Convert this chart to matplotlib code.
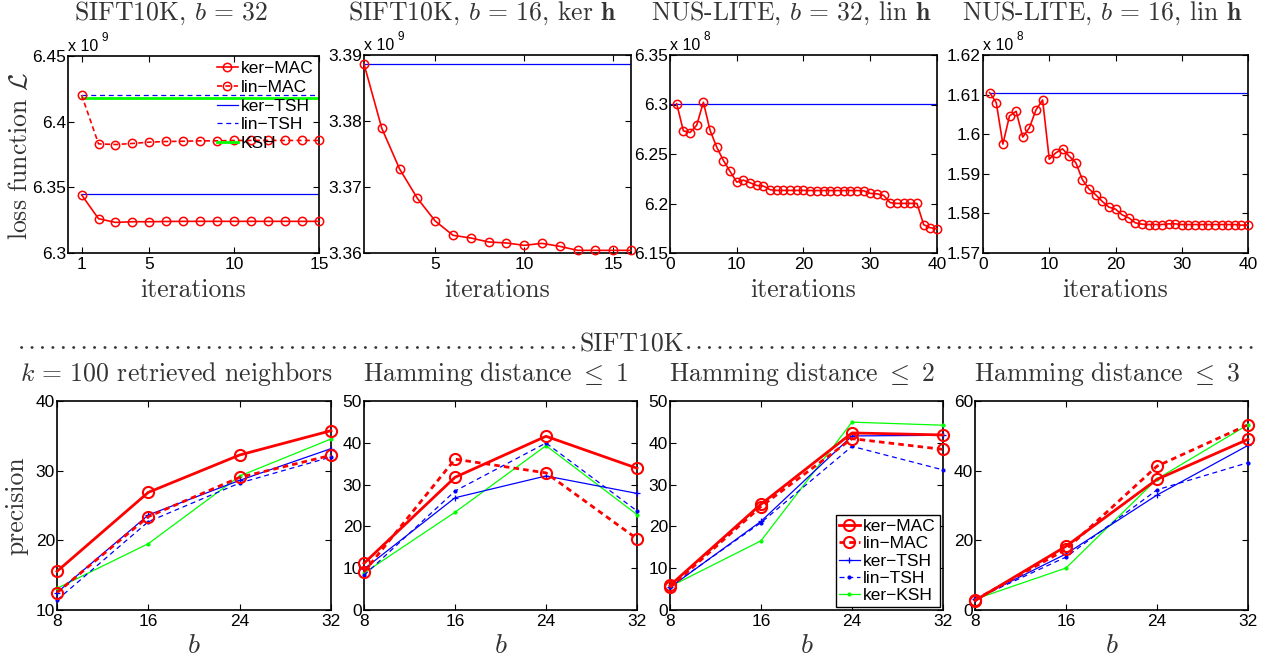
import matplotlib
matplotlib.use('Agg')
import matplotlib.pyplot as plt
from matplotlib.lines import Line2D
from matplotlib.ticker import FuncFormatter

plt.rcParams['mathtext.fontset'] = 'cm'
plt.rcParams['font.family'] = ['Liberation Sans', 'DejaVu Sans']
plt.rcParams['axes.unicode_minus'] = True

# ---------------- data ----------------
# top row: loss function vs iterations (values in units of the offset exponent)
p1_iter = list(range(1, 16))
p1_ker_mac = [6.3443, 6.3261, 6.3233, 6.3238, 6.3238, 6.3240, 6.3241, 6.3241,
              6.3241, 6.3241, 6.3241, 6.3241, 6.3241, 6.3241, 6.3241]
p1_lin_mac = [6.4204, 6.3831, 6.3826, 6.3834, 6.3844, 6.3849, 6.3851, 6.3854,
              6.3854, 6.3857, 6.3857, 6.3857, 6.3857, 6.3857, 6.3857]
p1_ker_tsh = 6.3447
p1_lin_tsh = 6.4204
p1_ksh = 6.4180

p2_iter = list(range(1, 17))
p2_ker_mac = [3.38864, 3.37889, 3.37273, 3.36828, 3.36485, 3.36268, 3.36227, 3.36167,
              3.36152, 3.36116, 3.36146, 3.36101, 3.36040, 3.36040, 3.36040, 3.36040]
p2_tsh = 3.38864

p3_iter = list(range(1, 41))
p3_lin_mac = [6.3009, 6.2734, 6.2717, 6.2791, 6.3023, 6.2740, 6.2569, 6.2434, 6.2324, 6.2216,
              6.2236, 6.2209, 6.2182, 6.2176, 6.2139, 6.2132, 6.2132, 6.2132, 6.2132, 6.2132,
              6.2131, 6.2131, 6.2131, 6.2131, 6.2131, 6.2131, 6.2131, 6.2131, 6.2129, 6.2102,
              6.2098, 6.2082, 6.2008, 6.2001, 6.2001, 6.2001, 6.2001, 6.1786, 6.1755, 6.1745]
p3_tsh = 6.3009

p4_iter = list(range(1, 41))
p4_lin_mac = [1.61052, 1.60799, 1.59750, 1.60460, 1.60579, 1.59927, 1.60164, 1.60613, 1.60866, 1.59369,
              1.59530, 1.59631, 1.59445, 1.59284, 1.58853, 1.58616, 1.58472, 1.58303, 1.58159, 1.58108,
              1.57964, 1.57888, 1.57761, 1.57728, 1.57719, 1.57719, 1.57719, 1.57736, 1.57736, 1.57719,
              1.57719, 1.57719, 1.57719, 1.57719, 1.57719, 1.57719, 1.57719, 1.57719, 1.57702, 1.57710]
p4_tsh = 1.61052

# bottom row: precision vs number of bits b
bits = [8, 16, 24, 32]
k100 = {
    'ker-MAC': [15.55, 26.89, 32.25, 35.74],
    'lin-MAC': [12.49, 23.40, 29.04, 32.20],
    'ker-TSH': [12.50, 23.64, 28.61, 33.16],
    'lin-TSH': [11.44, 22.68, 28.23, 31.96],
    'ker-KSH': [13.11, 19.52, 29.23, 34.55],
}
ham1 = {
    'ker-MAC': [11.17, 31.75, 41.56, 33.92],
    'lin-MAC': [9.08, 36.09, 32.80, 17.04],
    'ker-TSH': [9.80, 26.85, 32.07, 27.89],
    'lin-TSH': [8.28, 28.46, 39.95, 23.70],
    'ker-KSH': [8.84, 23.39, 39.31, 22.83],
}
ham2 = {
    'ker-MAC': [5.87, 25.32, 42.36, 41.88],
    'lin-MAC': [5.39, 24.76, 41.00, 38.42],
    'ker-TSH': [5.40, 21.22, 41.64, 41.80],
    'lin-TSH': [5.60, 20.90, 39.15, 33.52],
    'ker-KSH': [5.60, 16.56, 44.94, 44.21],
}
ham3 = {
    'ker-MAC': [2.70, 18.30, 37.50, 49.00],
    'lin-MAC': [2.90, 17.40, 41.30, 53.20],
    'ker-TSH': [3.10, 16.10, 33.00, 47.25],
    'lin-TSH': [3.10, 15.20, 34.50, 42.30],
    'ker-KSH': [3.10, 12.05, 37.60, 53.20],
}

# ---------------- layout helpers ----------------
W, H = 1270, 659
fig = plt.figure(figsize=(W / 100, H / 100), dpi=100)
TXT = '#333333'
SERIF = 'cmr10'
TFS = 18.5


def rect(x0, x1, y0, y1):
    return [x0 / W, 1 - y1 / H, (x1 - x0) / W, (y1 - y0) / H]


def fx(x):
    return x / W


def fy(y):
    return 1 - y / H


def style(ax):
    ax.tick_params(direction='in', top=True, right=True, length=4, width=0.8,
                   labelsize=12.5, pad=3)
    ax.tick_params(axis='y', pad=1.5)
    for s in ax.spines.values():
        s.set_linewidth(1.2)
        s.set_color('black')
    ax.yaxis.set_major_formatter(FuncFormatter(lambda v, p: format(round(v, 5), 'g')))


def offset_label(ax, exp):
    ax.annotate('x 10', xy=(0, 1), xycoords='axes fraction', xytext=(0, 1.5),
                textcoords='offset points', ha='left', va='bottom', fontsize=11.5)
    ax.annotate(str(exp), xy=(0, 1), xycoords='axes fraction', xytext=(24, 8.5),
                textcoords='offset points', ha='left', va='bottom', fontsize=8.5)


RED = '#ff0000'
BLUE = '#0000ff'
GREEN = '#00ff00'

# ---------------- top row ----------------
ax1 = fig.add_axes(rect(68, 319, 56, 253))
ax1.plot(p1_iter, p1_ker_mac, color=RED, lw=1.2, marker='o', ms=6, mfc='none',
         mew=1.1, label='ker\u2212MAC', clip_on=False, zorder=5)
ax1.plot(p1_iter, p1_lin_mac, color=RED, lw=1.2, ls=(0, (3, 2)), marker='o', ms=6,
         mfc='none', mew=1.1, label='lin\u2212MAC', clip_on=False, zorder=5)
ax1.plot([p1_iter[0], p1_iter[-1]], [p1_ker_tsh] * 2, color=BLUE, lw=0.9, label='ker\u2212TSH')
ax1.plot([p1_iter[0], p1_iter[-1]], [p1_lin_tsh] * 2, color=BLUE, lw=0.9, ls=(0, (4, 3)),
         label='lin\u2212TSH')
ax1.plot([p1_iter[0], p1_iter[-1]], [p1_ksh] * 2, color=GREEN, lw=2.0, label='KSH')
ax1.set_xlim(0.2, 15)
ax1.set_ylim(6.3, 6.45)
ax1.set_xticks([1, 5, 10, 15])
ax1.set_yticks([6.3, 6.35, 6.4, 6.45])
style(ax1)
offset_label(ax1, 9)
ax1.legend(loc='upper right', frameon=False, fontsize=12.5, handlelength=1.2,
           handletextpad=0.2, labelspacing=0.2, borderaxespad=0.0, borderpad=0.3)

ax2 = fig.add_axes(rect(364, 631, 55, 253))
ax2.plot([p2_iter[0], p2_iter[-1]], [p2_tsh] * 2, color=BLUE, lw=0.9)
ax2.plot(p2_iter, p2_ker_mac, color=RED, lw=1.2, marker='o', ms=6, mfc='none', mew=1.1,
         clip_on=False, zorder=5)
ax2.set_xlim(1, 16)
ax2.set_ylim(3.36, 3.39)
ax2.set_xticks([5, 10, 15])
ax2.set_yticks([3.36, 3.37, 3.38, 3.39])
style(ax2)
offset_label(ax2, 9)

ax3 = fig.add_axes(rect(670, 937, 55, 253))
ax3.plot([0, p3_iter[-1]], [p3_tsh] * 2, color=BLUE, lw=0.9)
ax3.plot(p3_iter, p3_lin_mac, color=RED, lw=1.2, marker='o', ms=6, mfc='none', mew=1.1,
         clip_on=False, zorder=5)
ax3.set_xlim(0, 40)
ax3.set_ylim(6.15, 6.35)
ax3.set_xticks([0, 10, 20, 30, 40])
ax3.set_yticks([6.15, 6.2, 6.25, 6.3, 6.35])
style(ax3)
offset_label(ax3, 8)

ax4 = fig.add_axes(rect(983, 1248, 55, 253))
ax4.plot([p4_iter[0], p4_iter[-1]], [p4_tsh] * 2, color=BLUE, lw=0.9)
ax4.plot(p4_iter, p4_lin_mac, color=RED, lw=1.2, marker='o', ms=6, mfc='none', mew=1.1,
         clip_on=False, zorder=5)
ax4.set_xlim(0, 40)
ax4.set_ylim(1.57, 1.62)
ax4.set_xticks([0, 10, 20, 30, 40])
ax4.set_yticks([1.57, 1.58, 1.59, 1.6, 1.61, 1.62])
style(ax4)
offset_label(ax4, 8)

top_titles = [
    (171, r'SIFT10K, $b\,=\,32$'),
    (482, r'SIFT10K, $b\,=\,16$, ker $\mathbf{h}$'),
    (791, r'NUS-LITE, $b\,=\,32$, lin $\mathbf{h}$'),
    (1102, r'NUS-LITE, $b\,=\,16$, lin $\mathbf{h}$'),
]
for x, t in top_titles:
    fig.text(fx(x), fy(20), t, ha='center', va='baseline', fontsize=TFS,
             family=SERIF, color=TXT)
for ax in (ax1, ax2, ax3, ax4):
    pos = ax.get_position()
    fig.text(pos.x0 + pos.width / 2, fy(297), 'iterations', ha='center', va='baseline',
             fontsize=TFS, family=SERIF, color=TXT)
fig.text(fx(20), fy(156), r'loss function $\mathcal{L}$', rotation=90, ha='center',
         va='center', fontsize=TFS, family=SERIF, color=TXT)

# ---------------- separator ----------------
for xa, xb in ((21, 577), (688, 1252)):
    fig.add_artist(Line2D([fx(xa), fx(xb)], [fy(347), fy(347)], color=TXT, lw=2.0,
                          ls=(0, (0.1, 3.65)), dash_capstyle='round'))
fig.text(fx(632), fy(352), 'SIFT10K', ha='center', va='baseline', fontsize=TFS,
         family=SERIF, color=TXT)

# ---------------- bottom row ----------------
styles = {
    'ker-MAC': dict(color=RED, lw=2.0, ls='-', marker='o', ms=8, mfc='none', mew=1.5),
    'lin-MAC': dict(color=RED, lw=2.0, ls=(0, (2, 1.5)), marker='o', ms=8, mfc='none', mew=1.5),
    'ker-TSH': dict(color=BLUE, lw=0.9, ls='-', marker='+', ms=4, mew=0.9),
    'lin-TSH': dict(color=BLUE, lw=0.9, ls=(0, (4, 3)), marker='.', ms=4),
    'ker-KSH': dict(color=GREEN, lw=0.9, ls='-', marker='.', ms=4),
}
order = ['ker-KSH', 'lin-TSH', 'ker-TSH', 'lin-MAC', 'ker-MAC']
legend_order = ['ker-MAC', 'lin-MAC', 'ker-TSH', 'lin-TSH', 'ker-KSH']

bottom = [
    (rect(57, 331, 401, 610), k100, (10, 40), [10, 20, 30, 40], 177,
     r'$k\,=\,100$ retrieved neighbors'),
    (rect(364, 637, 401, 610), ham1, (0, 50), [0, 10, 20, 30, 40, 50], 495,
     r'$\mathrm{Hamming\ distance}\ \leq\ 1$'),
    (rect(670, 943, 401, 610), ham2, (0, 50), [0, 10, 20, 30, 40, 50], 802,
     r'$\mathrm{Hamming\ distance}\ \leq\ 2$'),
    (rect(975, 1248, 401, 610), ham3, (0, 60), [0, 20, 40, 60], 1107,
     r'$\mathrm{Hamming\ distance}\ \leq\ 3$'),
]
baxes = []
for r, data, ylim, yt, tx, title in bottom:
    ax = fig.add_axes(r)
    handles = {}
    for name in order:
        h, = ax.plot(bits, data[name], clip_on=False, zorder=5,
                     label=name.replace('-', '\u2212'), **styles[name])
        handles[name] = h
    ax.set_xlim(8, 32)
    ax.set_ylim(*ylim)
    ax.set_xticks(bits)
    ax.set_yticks(yt)
    style(ax)
    fig.text(fx(tx), fy(381), title, ha='center', va='baseline', fontsize=TFS,
             family=SERIF, color=TXT)
    pos = ax.get_position()
    fig.text(pos.x0 + pos.width / 2, fy(653), r'$b$', ha='center', va='baseline',
             fontsize=20, color=TXT)
    baxes.append((ax, handles))

ax7, h7 = baxes[2]
leg = ax7.legend([h7[n] for n in legend_order],
                 [n.replace('-', '\u2212') for n in legend_order],
                 loc='lower right', fontsize=12.5, handlelength=1.2, handletextpad=0.2,
                 labelspacing=0.12, borderaxespad=0.2, borderpad=0.2,
                 fancybox=False, edgecolor='black', framealpha=1)
leg.get_frame().set_linewidth(1.0)

fig.text(fx(17), fy(506), 'precision', rotation=90, ha='center', va='center',
         fontsize=TFS, family=SERIF, color=TXT)

fig.savefig('out.png', dpi=100)
